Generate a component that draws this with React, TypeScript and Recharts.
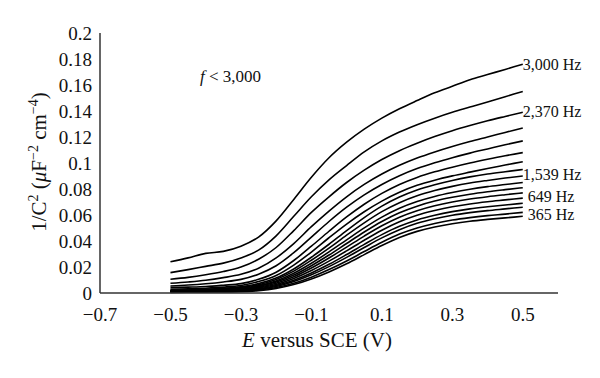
import { LineChart, Line, XAxis, YAxis } from 'recharts'

// potential E vs SCE (V)
const potentials = [-0.5, -0.45, -0.4, -0.35, -0.3, -0.25, -0.2, -0.15, -0.1, -0.05, 0, 0.05, 0.1, 0.15, 0.2, 0.25, 0.3, 0.35, 0.4, 0.45, 0.5]

// 1/C^2 curves, highest frequency (3,000 Hz) first, lowest (365 Hz) last
const c01 = [0.024, 0.027, 0.0305, 0.032, 0.036, 0.043, 0.0555, 0.072, 0.089, 0.104, 0.116, 0.126, 0.1345, 0.1417, 0.148, 0.154, 0.159, 0.164, 0.168, 0.172, 0.176]
const c02 = [0.0157, 0.018, 0.0205, 0.023, 0.027, 0.033, 0.044, 0.059, 0.074, 0.087, 0.098, 0.1085, 0.117, 0.1238, 0.1295, 0.1345, 0.139, 0.143, 0.147, 0.151, 0.155]
const c03 = [0.0106, 0.012, 0.014, 0.0165, 0.02, 0.026, 0.035, 0.048, 0.062, 0.074, 0.085, 0.0945, 0.1027, 0.1095, 0.1152, 0.1203, 0.1248, 0.1288, 0.1325, 0.1358, 0.139]
const c04 = [0.0075, 0.0085, 0.0098, 0.0118, 0.0144, 0.019, 0.027, 0.038, 0.051, 0.063, 0.074, 0.0835, 0.0915, 0.0982, 0.1038, 0.1085, 0.1127, 0.1165, 0.12, 0.1235, 0.127]
const c05 = [0.0054, 0.0061, 0.0071, 0.0085, 0.0105, 0.0145, 0.021, 0.031, 0.043, 0.055, 0.066, 0.0755, 0.0835, 0.0902, 0.0957, 0.1002, 0.1041, 0.1076, 0.1108, 0.114, 0.117]
const c06 = [0.0041, 0.0045, 0.005, 0.006, 0.0072, 0.0105, 0.016, 0.025, 0.036, 0.0475, 0.0585, 0.0683, 0.0766, 0.0835, 0.0889, 0.0932, 0.0968, 0.1, 0.1029, 0.1056, 0.108]
const c07 = [0.0029, 0.0032, 0.0037, 0.0045, 0.0058, 0.0088, 0.0135, 0.0215, 0.0315, 0.0425, 0.053, 0.0625, 0.0707, 0.0775, 0.0828, 0.0868, 0.0901, 0.093, 0.0958, 0.0984, 0.101]
const c08 = [0.002, 0.0023, 0.0028, 0.0036, 0.0048, 0.0072, 0.0115, 0.0185, 0.0275, 0.0375, 0.048, 0.058, 0.0668, 0.0738, 0.0792, 0.0833, 0.0866, 0.0893, 0.0915, 0.0933, 0.095]
const c09 = [0.0018, 0.0021, 0.0025, 0.0032, 0.0043, 0.0064, 0.0104, 0.0168, 0.0252, 0.0345, 0.0445, 0.054, 0.0626, 0.0695, 0.0748, 0.0788, 0.082, 0.0846, 0.0866, 0.0884, 0.09]
const c10 = [0.0016, 0.0018, 0.0022, 0.0028, 0.0037, 0.0057, 0.0093, 0.0152, 0.0229, 0.0316, 0.0409, 0.0501, 0.0584, 0.0652, 0.0704, 0.0743, 0.0773, 0.0798, 0.0818, 0.0834, 0.085]
const c11 = [0.0014, 0.0016, 0.002, 0.0025, 0.0033, 0.0051, 0.0084, 0.0138, 0.021, 0.0292, 0.0381, 0.0469, 0.055, 0.0617, 0.0668, 0.0707, 0.0736, 0.076, 0.0779, 0.0795, 0.081]
const c12 = [0.0013, 0.0015, 0.0018, 0.0022, 0.0029, 0.0045, 0.0075, 0.0125, 0.0192, 0.0269, 0.0353, 0.0438, 0.0517, 0.0583, 0.0633, 0.0671, 0.07, 0.0723, 0.0741, 0.0756, 0.077]
const c13 = [0.0011, 0.0013, 0.0015, 0.0019, 0.0025, 0.0039, 0.0066, 0.0112, 0.0173, 0.0245, 0.0324, 0.0406, 0.0483, 0.0548, 0.0598, 0.0634, 0.0663, 0.0685, 0.0702, 0.0716, 0.073]
const c14 = [0.0009, 0.0011, 0.0013, 0.0016, 0.0021, 0.0033, 0.0057, 0.0098, 0.0154, 0.0221, 0.0296, 0.0374, 0.0449, 0.0513, 0.0562, 0.0598, 0.0626, 0.0647, 0.0663, 0.0677, 0.069]
const c15 = [0.0008, 0.0009, 0.0011, 0.0013, 0.0017, 0.0028, 0.005, 0.0088, 0.014, 0.0203, 0.0274, 0.035, 0.0424, 0.0487, 0.0536, 0.0571, 0.0598, 0.0618, 0.0634, 0.0647, 0.066]
const c16 = [0.0006, 0.0007, 0.0009, 0.001, 0.0013, 0.0023, 0.0042, 0.0075, 0.0122, 0.018, 0.0246, 0.0319, 0.039, 0.0453, 0.05, 0.0535, 0.0561, 0.058, 0.0595, 0.0607, 0.062]
const c17 = [0.0005, 0.0006, 0.0007, 0.0008, 0.001, 0.0018, 0.0035, 0.0065, 0.0108, 0.0162, 0.0225, 0.0295, 0.0365, 0.0427, 0.0474, 0.0508, 0.0533, 0.0552, 0.0566, 0.0578, 0.059]

const curves = [c01, c02, c03, c04, c05, c06, c07, c08, c09, c10, c11, c12, c13, c14, c15, c16, c17]

// end labels: curve index -> text
const endLabels: Record<number, string> = { 0: '3,000 Hz', 2: '2,370 Hz', 7: '1,539 Hz', 12: '649 Hz', 16: '365 Hz' }

const xTicks = [-0.7, -0.5, -0.3, -0.1, 0.1, 0.3, 0.5]
const yTicks = [0, 0.02, 0.04, 0.06, 0.08, 0.1, 0.12, 0.14, 0.16, 0.18, 0.2]

const rows = potentials.map((e, i) => {
  const row: Record<string, number> = { e }
  curves.forEach((c, k) => { row['c' + k] = c[i] })
  return row
})

const font = '"Liberation Serif", "Times New Roman", serif'
const ink = '#111'

// label nudges so text sits where the reference puts it
const labelOffset: Record<number, { dx: number; dy: number }> = {
  0: { dx: 0, dy: 6 },
  2: { dx: 0, dy: 5 },
  7: { dx: 0, dy: 10 },
  12: { dx: 5, dy: 4 },
  16: { dx: 5, dy: 4 },
}

function endLabel(k: number) {
  const text = endLabels[k]
  return (props: any) => {
    if (!text || props.index !== potentials.length - 1) return <g key={props.index} />
    const off = labelOffset[k]
    return (
      <text key={props.index} x={props.x + off.dx} y={props.y + off.dy} fontFamily={font} fontSize={16} fill={ink}>
        {text}
      </text>
    )
  }
}

const fmtX = (v: number) => v.toFixed(1).replace('-', '\u2212')
const fmtY = (v: number) => (v === 0 ? '0' : String(Number(v.toFixed(2))))

export default function App() {
  return (
    <div style={{ position: 'fixed', left: 0, top: 0, width: 600, height: 378, background: '#fff' }}>
      <LineChart width={600} height={378} data={rows} margin={{ top: 33, right: 42, bottom: 0, left: 0 }}>
        <XAxis
          dataKey="e"
          type="number"
          domain={[-0.7, 0.6]}
          ticks={xTicks}
          interval={0}
          tickFormatter={fmtX}
          tickLine={false}
          height={85}
          tickMargin={9}
          tick={{ fontFamily: font, fontSize: 19, fill: ink }}
          axisLine={{ stroke: '#333', strokeWidth: 1.5 }}
        />
        <YAxis
          type="number"
          domain={[0, 0.2]}
          ticks={yTicks}
          interval={0}
          tickFormatter={fmtY}
          tickLine={false}
          width={100}
          tick={{ fontFamily: font, fontSize: 19, fill: ink }}
          axisLine={{ stroke: '#333', strokeWidth: 1.5 }}
        />
        {curves.map((_, k) => (
          <Line
            key={k}
            dataKey={'c' + k}
            type="monotone"
            stroke="#000"
            strokeWidth={1.6}
            dot={false}
            activeDot={false}
            isAnimationActive={false}
            label={endLabel(k)}
          />
        ))}
        <text x={200} y={82} fontFamily={font} fontSize={17} fill={ink}>
          <tspan fontStyle="italic">f</tspan>
          <tspan> &lt; 3,000</tspan>
        </text>
        <text x={317} y={347} textAnchor="middle" fontFamily={font} fontSize={21} fill={ink}>
          <tspan fontStyle="italic">E</tspan>
          <tspan> versus SCE (V)</tspan>
        </text>
        <text transform="rotate(-90)" x={-162} y={46} textAnchor="middle" fontFamily={font} fontSize={21} fill={ink}>
          <tspan>1/C</tspan>
          <tspan fontSize={14} dy={-8}>2</tspan>
          <tspan dy={8}> (</tspan>
          <tspan fontStyle="italic">μ</tspan>
          <tspan>F</tspan>
          <tspan fontSize={14} dy={-8}>−2</tspan>
          <tspan dy={8}> cm</tspan>
          <tspan fontSize={14} dy={-8}>−4</tspan>
          <tspan dy={8}>)</tspan>
        </text>
      </LineChart>
    </div>
  )
}
